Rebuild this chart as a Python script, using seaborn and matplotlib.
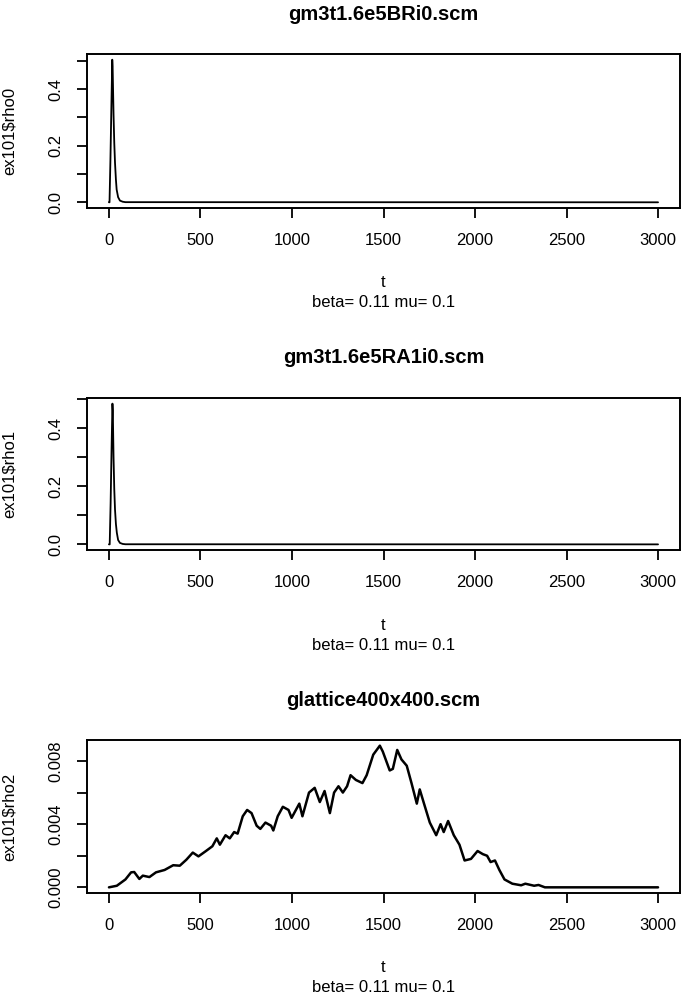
import matplotlib
matplotlib.use("Agg")
import matplotlib.pyplot as plt
import seaborn as sns
import pandas as pd

# panel 1 : gm3t1.6e5BRi0.scm
t0 = [0, 3, 8, 13, 18, 20, 25, 29, 33, 38, 42, 50, 60, 75, 90, 3000]
rho0 = [0, 0, 0.15, 0.33, 0.504, 0.48, 0.31, 0.21, 0.14, 0.08, 0.045, 0.018, 0.006, 0.002, 0.0005, 0]

# panel 2 : gm3t1.6e5RA1i0.scm
t1 = [0, 4, 9, 14, 19, 21, 25, 29, 33, 38, 43, 50, 60, 75, 90, 3000]
rho1 = [0, 0, 0.14, 0.32, 0.484, 0.46, 0.30, 0.19, 0.12, 0.07, 0.04, 0.015, 0.005, 0.0015, 0.0004, 0]

# panel 3 : glattice400x400.scm
t2 = [0, 43, 90, 121, 138, 166, 185, 221, 257, 304, 351, 387, 423, 458, 489, 530,
      565, 589, 606, 637, 660, 684, 703, 731, 755, 779, 807, 827, 855, 886, 898,
      922, 950, 981, 998, 1040, 1057, 1093, 1124, 1152, 1178, 1207, 1230, 1254,
      1278, 1301, 1320, 1349, 1385, 1408, 1444, 1480, 1496, 1534, 1551, 1575,
      1598, 1627, 1653, 1682, 1698, 1724, 1753, 1788, 1812, 1829, 1853, 1884,
      1915, 1943, 1978, 2014, 2043, 2066, 2085, 2109, 2133, 2161, 2204, 2252,
      2275, 2323, 2347, 2382, 3000]
rho2 = [0, 0.0001, 0.0005, 0.00095, 0.00097, 0.00053, 0.00074, 0.00065, 0.00095,
        0.0011, 0.0014, 0.00137, 0.00175, 0.0022, 0.00196, 0.0023, 0.0026, 0.0031,
        0.0027, 0.0033, 0.0031, 0.0035, 0.0034, 0.0045, 0.0049, 0.0047, 0.0039,
        0.0037, 0.0041, 0.0039, 0.0036, 0.0045, 0.0051, 0.0049, 0.0044, 0.0053,
        0.0045, 0.006, 0.0063, 0.0054, 0.0061, 0.0047, 0.006, 0.0064, 0.006,
        0.0064, 0.0071, 0.0068, 0.0066, 0.0071, 0.0084, 0.00897, 0.0086, 0.0074,
        0.0075, 0.0087, 0.0081, 0.0077, 0.0066, 0.0053, 0.0062, 0.0052, 0.0041,
        0.0033, 0.004, 0.0035, 0.0042, 0.0033, 0.0027, 0.0017, 0.0018, 0.0023,
        0.0021, 0.002, 0.0016, 0.0017, 0.0011, 0.0005, 0.00023, 0.00013, 0.00023,
        0.0001, 0.00015, 0, 0]

titles = ["gm3t1.6e5BRi0.scm", "gm3t1.6e5RA1i0.scm", "glattice400x400.scm"]
ylabels = ["ex101$rho0", "ex101$rho1", "ex101$rho2"]
subtitle = "beta= 0.11 mu= 0.1"
xticks = [0, 500, 1000, 1500, 2000, 2500, 3000]
yticks = [[0, 0.1, 0.2, 0.3, 0.4, 0.5], [0, 0.1, 0.2, 0.3, 0.4, 0.5],
          [0, 0.002, 0.004, 0.006, 0.008]]
yticklabels = [["0.0", "", "0.2", "", "0.4", ""], ["0.0", "", "0.2", "", "0.4", ""],
               ["0.000", "", "0.004", "", "0.008"]]

sns.set_theme(style="ticks")
plt.rcParams['font.family'] = ['Liberation Sans', 'DejaVu Sans']
plt.rcParams['text.color'] = 'black'
plt.rcParams['xtick.labelcolor'] = 'black'
plt.rcParams['ytick.labelcolor'] = 'black'
plt.rcParams['axes.labelcolor'] = 'black'

W, H = 681, 999
fig = plt.figure(figsize=(W / 100, H / 100), dpi=100)

# pixel boxes (left, top, right, bottom) and text rows
boxes = [(87, 54, 680, 208), (87, 398, 680, 550), (87, 740, 680, 893)]
title_y = [15, 358, 700]
t_y = [282, 625, 967]
sub_y = [303, 645, 988]

data = [(t0, rho0), (t1, rho1), (t2, rho2)]
lws = [1.3, 1.3, 1.8]

for i, (tt, rr) in enumerate(data):
    l, tp, r, b = boxes[i]
    ax = fig.add_axes([l / W, 1 - b / H, (r - l) / W, (b - tp) / H])
    df = pd.DataFrame({"t": tt, "rho": rr})
    sns.lineplot(data=df, x="t", y="rho", ax=ax, color="black", lw=lws[i],
                 estimator=None, sort=False)
    lo, hi = min(rr), max(rr)
    span = hi - lo
    ax.set_xlim(-120, 3120)
    ax.set_ylim(lo - 0.04 * span, hi + 0.04 * span)
    ax.set_xticks(xticks)
    ax.set_xticklabels([str(x) for x in xticks], fontsize=12)
    ax.set_yticks(yticks[i])
    ax.set_yticklabels(yticklabels[i], fontsize=12, rotation=90, va="center")
    ax.tick_params(axis="both", direction="out", length=7, width=1.3, color="black")
    ax.tick_params(axis="x", pad=11)
    ax.tick_params(axis="y", pad=10)
    for s in ax.spines.values():
        s.set_visible(True)
        s.set_linewidth(1.4)
        s.set_color("black")
    ax.set_xlabel("")
    ax.set_ylabel(ylabels[i], fontsize=12)
    ax.yaxis.set_label_coords((17 - l) / (r - l), 0.5)
    cx = (l + r) / 2 / W
    fig.text(cx, 1 - title_y[i] / H, titles[i], ha="center", va="center",
             fontsize=14.5, fontweight="bold")
    fig.text(cx, 1 - t_y[i] / H, "t", ha="center", va="center", fontsize=12)
    fig.text(cx, 1 - sub_y[i] / H, subtitle, ha="center", va="center", fontsize=12)

fig.savefig("out.png", dpi=100)
